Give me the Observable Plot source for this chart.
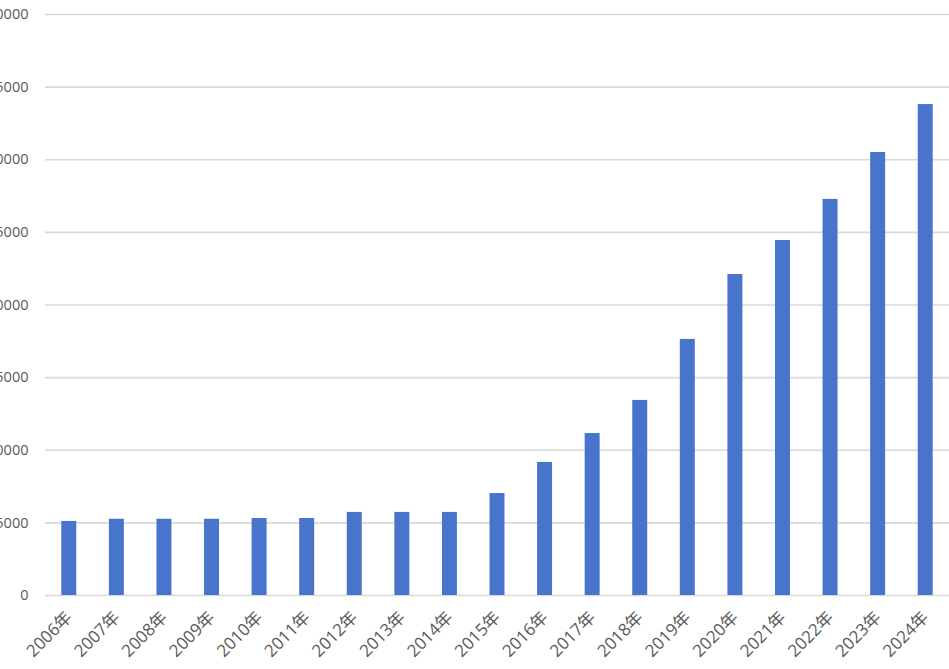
<!DOCTYPE html>
<html>
<head>
<meta charset="utf-8">
<script src="https://cdn.jsdelivr.net/npm/d3@7"></script>
<script src="https://cdn.jsdelivr.net/npm/@observablehq/plot@0.6"></script>
<style>
  html, body { margin: 0; padding: 0; background: #fff; overflow: hidden; }
  #chart { width: 949px; height: 669px; overflow: hidden; position: relative; }
  #chart svg { position: absolute; left: -40px; top: 0; max-width: none !important; }
</style>
</head>
<body>
<div id="chart"></div>
<script>
const years = ["2006年","2007年","2008年","2009年","2010年","2011年","2012年","2013年","2014年","2015年","2016年","2017年","2018年","2019年","2020年","2021年","2022年","2023年","2024年"];
const values = [5100, 5250, 5250, 5250, 5300, 5300, 5720, 5720, 5720, 7020, 9160, 11150, 13430, 17630, 22100, 24440, 27270, 30500, 33800];
const yTicks = [0, 5000, 10000, 15000, 20000, 25000, 30000, 35000, 40000];

const data = years.map((y, i) => ({year: y, value: values[i]}));

const plot = Plot.plot({
  width: 989,
  height: 669,
  marginLeft: 85,
  marginRight: 0,
  marginTop: 14,
  marginBottom: 74,
  style: {fontFamily: "'Open Sans', 'Noto Sans CJK SC', sans-serif", fontSize: "14.5px", color: "#595959", background: "transparent", maxWidth: "none"},
  x: {domain: years, padding: 0, round: false, label: null},
  y: {domain: [0, 40000], label: null},
  marks: [
    Plot.ruleY(yTicks, {stroke: "#d9d9d9", strokeWidth: 1.7}),
    Plot.barY(data, {x: "year", y: "value", fill: "#4874CB", insetLeft: 16.3, insetRight: 16.3}),
    Plot.axisY({ticks: yTicks, tickSize: 0, tickPadding: 17, tickFormat: d => String(d), fill: "#595959", fontSize: 14.5}),
    Plot.axisX({tickSize: 0, tickRotate: -45, tickPadding: 19, dx: 0, fill: "#595959", fontSize: 17})
  ]
});
document.getElementById("chart").appendChild(plot);
</script>
</body>
</html>
